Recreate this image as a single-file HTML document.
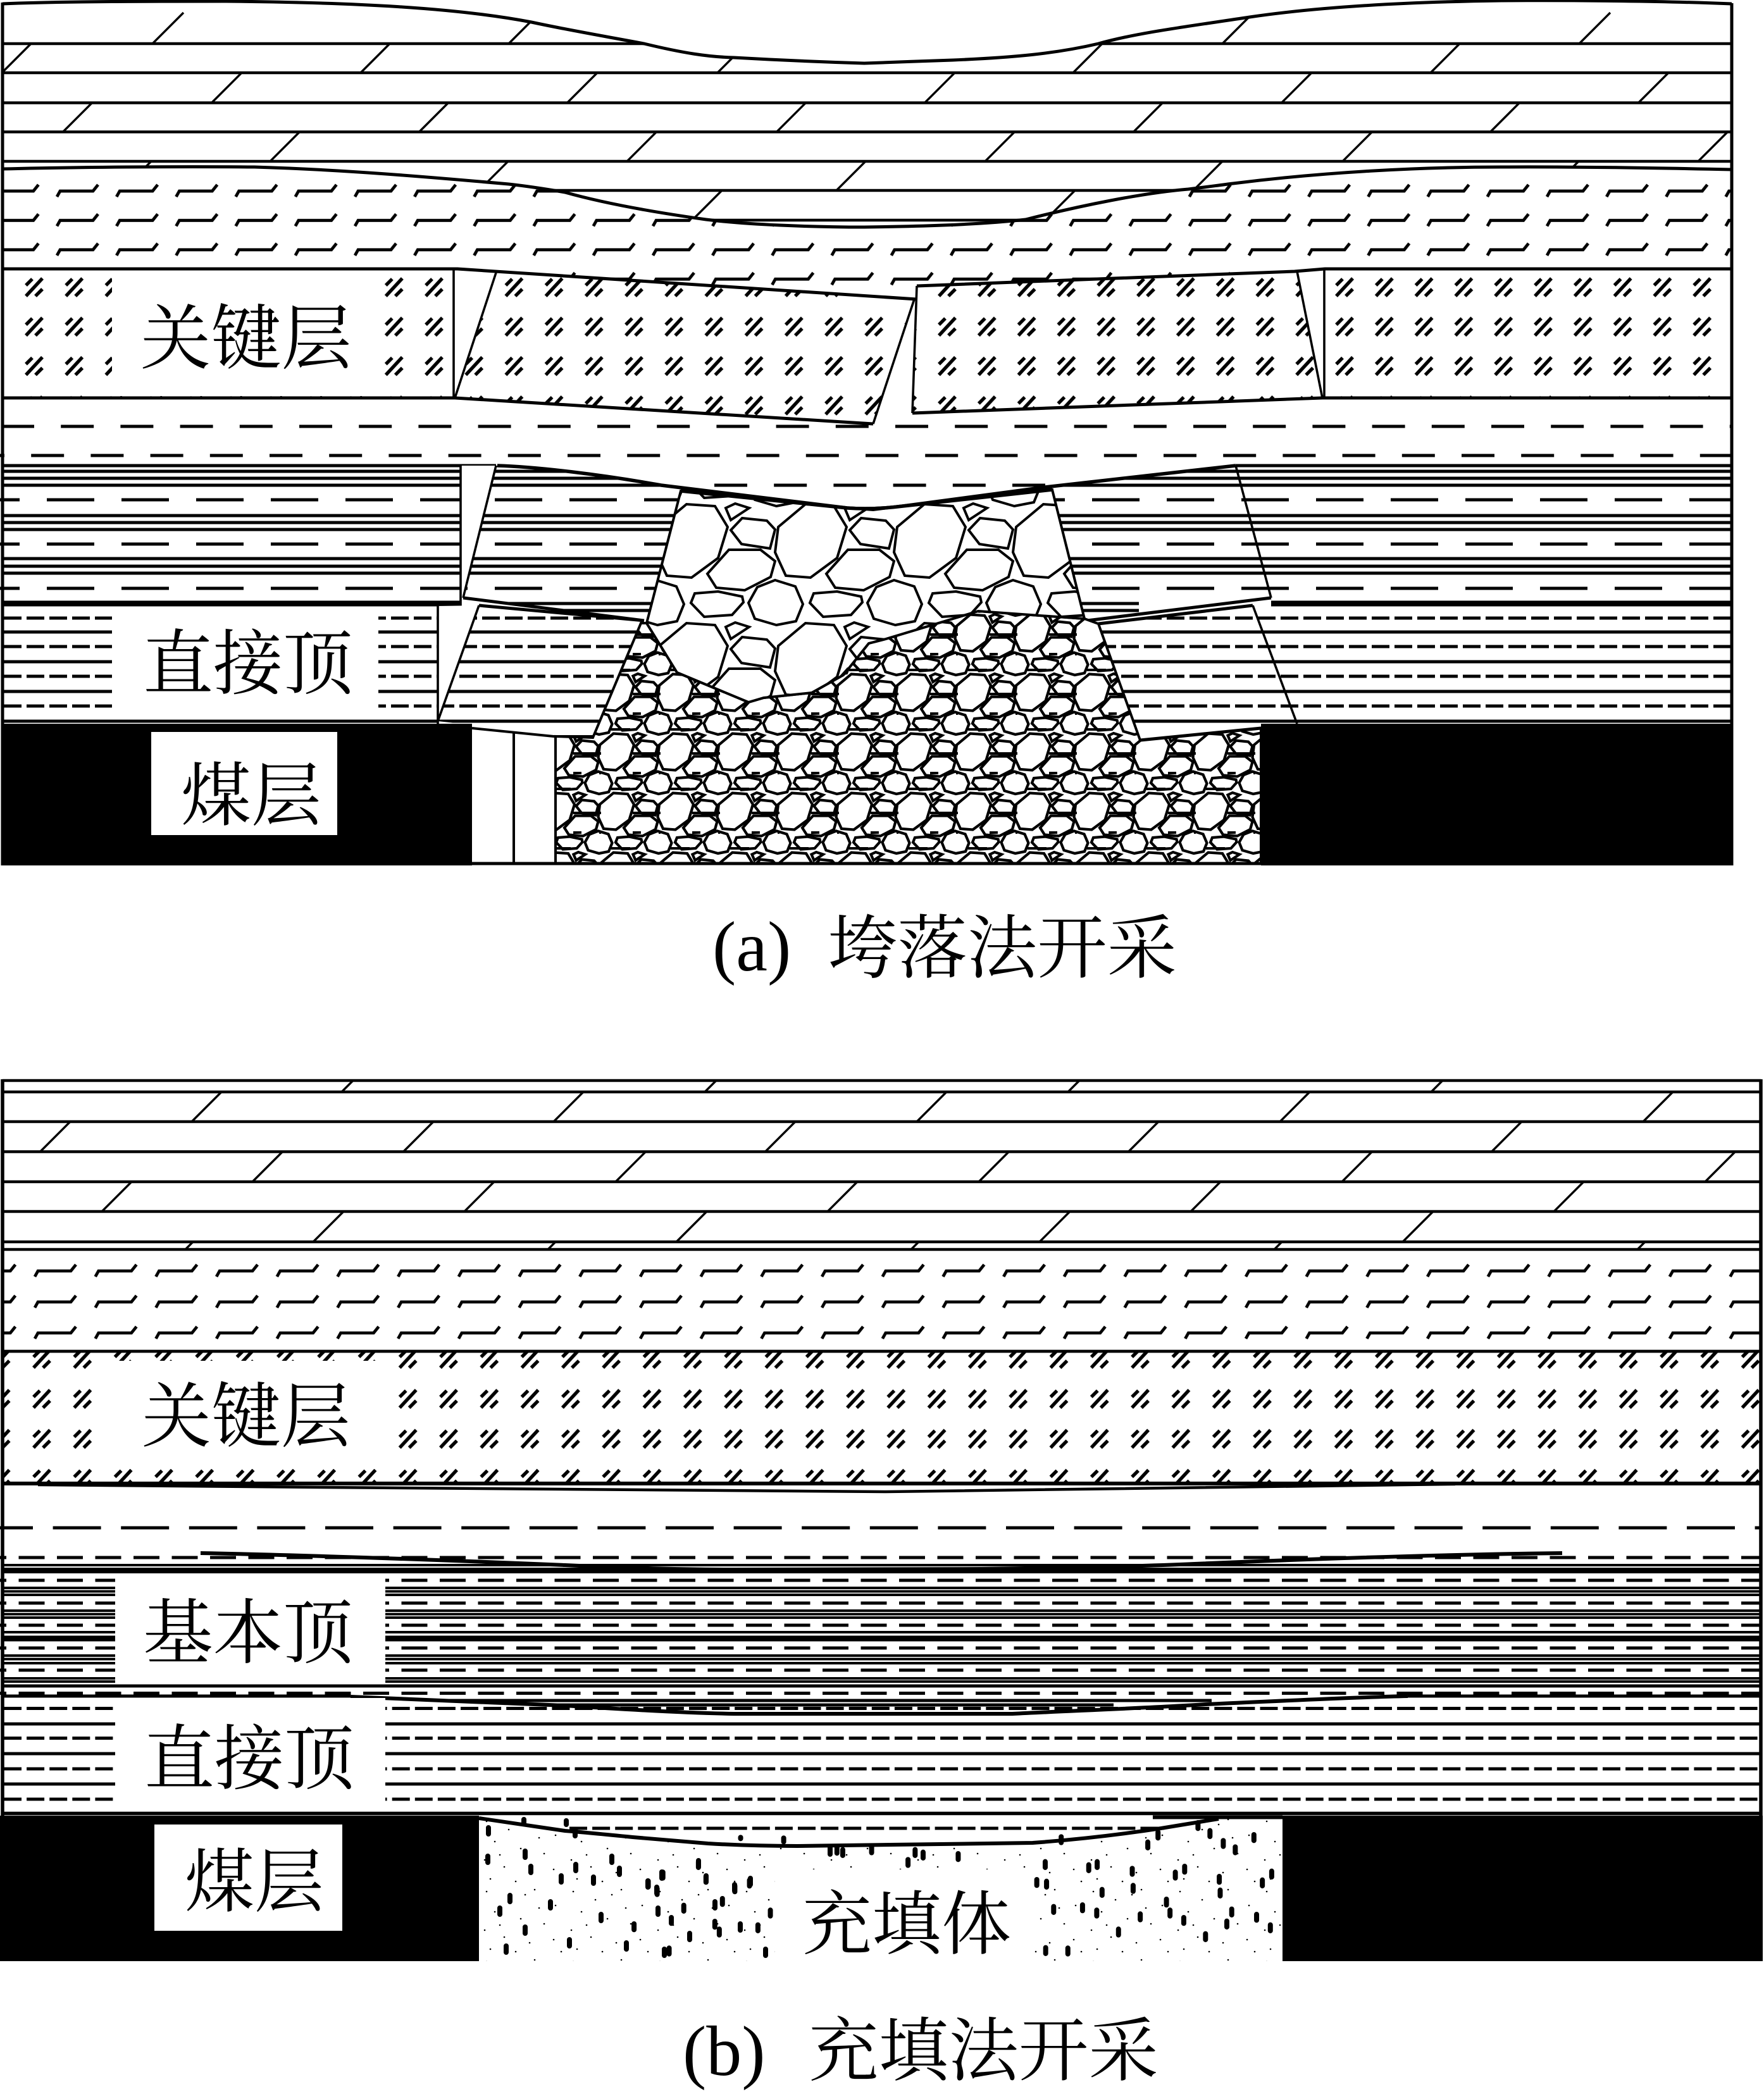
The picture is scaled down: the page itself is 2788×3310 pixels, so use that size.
<!DOCTYPE html>
<html><head><meta charset="utf-8"><style>
html,body{margin:0;padding:0;background:#fff}
svg{display:block}
text{font-family:"Liberation Serif","Noto Serif CJK SC",serif;fill:#000}
</style></head><body>
<svg xmlns="http://www.w3.org/2000/svg" width="2788" height="3310" viewBox="0 0 2788 3310">
<defs>
<g id="st" fill="none" stroke="#000" stroke-linejoin="miter">
<polygon points="2,63 45,27 90,30 110,63 95,112 53,143 14,140 -3,103"/>
<polygon points="115,68 133,49 172,53 185,67 177,97 132,90"/>
<polygon points="107,33 122,26 144,33 115,52"/>
<polygon points="78,137 112,99 162,99 185,117 178,142 137,163 92,159"/>
<polygon points="143,183 157,158 185,147 217,157 229,185 218,212 187,218 153,208"/>
<polygon points="52,183 58,168 95,165 133,173 135,182 117,202 73,205"/>
</g>
<g id="st6"><use href="#st"/><use href="#st" x="-188"/><use href="#st" x="188"/><use href="#st" y="-188"/><use href="#st" x="-188" y="-188"/><use href="#st" x="188" y="-188"/></g>
<pattern id="big" patternUnits="userSpaceOnUse" width="188" height="188" patternTransform="translate(1040 770)"><g stroke-width="4"><use href="#st6"/></g></pattern>
<pattern id="small" patternUnits="userSpaceOnUse" width="188" height="188" patternTransform="translate(1041 1146) scale(.5)"><g stroke-width="8.5"><use href="#st6"/></g><path d="M106 90H188M0 90H6M106 152H132M38 14H98M0 152H6" stroke="#000" stroke-width="8" fill="none"/></pattern>
<g id="pc" stroke="#000" stroke-width="5.4" fill="none"><path d="M5 33L31 5M5 16L15 6M20 33L31 22"/></g>
<pattern id="pct1" patternUnits="userSpaceOnUse" x="36" y="435" width="63.2" height="62.3"><use href="#pc"/></pattern>
<pattern id="pct2" patternUnits="userSpaceOnUse" x="1479" y="435" width="62.8" height="62.3"><use href="#pc"/></pattern>
<pattern id="pct3" patternUnits="userSpaceOnUse" x="48" y="2129" width="64.3" height="63.2"><use href="#pc"/></pattern>
<pattern id="sh1" patternUnits="userSpaceOnUse" x="85" y="278" width="94.2" height="46.4"><path d="M5 33L10 24H62L70 14" fill="none" stroke="#000" stroke-width="4.8"/></pattern>
<pattern id="sh2" patternUnits="userSpaceOnUse" x="50" y="1985" width="95.7" height="49"><path d="M5 33L10 24H62L70 14" fill="none" stroke="#000" stroke-width="4.8"/></pattern>
<pattern id="dots" patternUnits="userSpaceOnUse" x="757" y="2870" width="137" height="111"><path d="M12 9h.1M47 22h.1M88 6h.1M121 31h.1M25 41h.1M66 52h.1M103 60h.1M9 70h.1M40 81h.1M80 90h.1M118 85h.1M58 104h.1M130 104h.1M18 100h.1M95 35h.1M33 62h.1M73 14h.1" stroke="#000" stroke-width="2.5" stroke-linecap="round" fill="none"/></pattern>
<clipPath id="ca"><path d="M4 6C100 2 250 2 357 2C560 4 720 12 840 35C900 48 960 58 1018 69C1080 84 1120 90 1160 91C1230 95 1300 98 1366 100C1400 99 1470 96 1506 95C1600 91 1668 85 1736 69C1796 52 1876 42 1975 27C2090 10 2232 3 2373 1C2490 0 2640 2 2737 6L2737 420L4 420Z"/></clipPath>
<clipPath id="cl1"><polygon points="757,957 1018,982 937,1166 692,1140 692,1144 4,1144 4,958 692,958"/></clipPath>
<clipPath id="cr1"><polygon points="1736,986 1980,957 2737,957 2737,1144 1993,1144 1993,1151 1802,1170"/></clipPath>
</defs>
<rect width="2788" height="3310" fill="#fff"/>

<!-- PANEL A -->
<g clip-path="url(#ca)" stroke="#000" fill="none">
<path stroke-width="4.6" d="M4 69H2737M4 115H2737M4 162.5H2737M4 208.5H2737M4 255H2737M4 301H2737M4 348H2737"/>
<path stroke-width="3.4" d="M241 69l49-49M804 69l49-49M1932 69l49-49M2496 69l49-49M3 115l46-46M570 115l46-46M1134 115l46-46M1696 115l46-46M2261 115l46-46M335 162l46-46M897 162l46-46M1462 162l46-46M2026 162l46-46M2590 162l46-46M100 208l46-46M663 208l46-46M1228 208l46-46M1792 208l46-46M2356 208l46-46M427 255l46-46M991 255l46-46M1557 255l46-46M2122 255l46-46M2684 255l46-46M193 301l46-46M757 301l46-46M1322 301l46-46M1886 301l46-46M2449 301l46-46M527 348l46-46M1094 348l46-46M1652 348l46-46M2217 348l46-46"/>
</g>
<path fill="#fff" d="M4 267C120 264 280 263 402 264C540 268 680 280 804 291C840 295 870 300 893 304C950 320 1030 335 1116 347C1180 355 1280 359 1366 359C1440 358 1540 356 1621 347C1708 325 1806 305 1878 299C1896 297 1925 293 1949 290C2093 272 2242 264 2373 264C2490 263 2640 266 2737 268L2737 425L2094 425L2046 429L1449 452L1449 473L723 425L4 425Z"/>
<path fill="url(#sh1)" d="M4 267C120 264 280 263 402 264C540 268 680 280 804 291C840 295 870 300 893 304C950 320 1030 335 1116 347C1180 355 1280 359 1366 359C1440 358 1540 356 1621 347C1708 325 1806 305 1878 299C1896 297 1925 293 1949 290C2093 272 2242 264 2373 264C2490 263 2640 266 2737 268L2737 425L2094 425L2046 429L1449 452L1449 473L723 425L4 425Z"/>
<g fill="none" stroke="#000" stroke-width="5">
<path d="M4 6C100 2 250 2 357 2C560 4 720 12 840 35C900 48 960 58 1018 69C1080 84 1120 90 1160 91C1230 95 1300 98 1366 100C1400 99 1470 96 1506 95C1600 91 1668 85 1736 69C1796 52 1876 42 1975 27C2090 10 2232 3 2373 1C2490 0 2640 2 2737 6"/>
<path d="M4 267C120 264 280 263 402 264C540 268 680 280 804 291C840 295 870 300 893 304C950 320 1030 335 1116 347C1180 355 1280 359 1366 359C1440 358 1540 356 1621 347C1708 325 1806 305 1878 299C1896 297 1925 293 1949 290C2093 272 2242 264 2373 264C2490 263 2640 266 2737 268"/>
</g>

<!-- mudstone dashes -->
<path d="M2 674H2737" stroke="#000" stroke-width="5" stroke-dasharray="52 42.2" fill="none"/>
<path d="M-45 720H2737" stroke="#000" stroke-width="5" stroke-dasharray="52 42.2" fill="none"/>

<!-- key stratum -->
<rect x="4" y="425" width="713" height="204" fill="#fff"/>
<rect x="4" y="425" width="713" height="204" fill="url(#pct1)"/>
<rect x="2093" y="425" width="644" height="204" fill="#fff"/>
<rect x="2093" y="425" width="644" height="204" fill="url(#pct2)"/>
<polygon points="784,431 1445,473 1380,670 719,629" fill="#fff"/>
<polygon points="784,431 1445,473 1380,670 719,629" fill="url(#pct1)"/>
<polygon points="1449,452 2050,429 2090,629 1442,653" fill="#fff"/>
<polygon points="1449,452 2050,429 2090,629 1442,653" fill="url(#pct2)"/>
<rect x="177" y="428" width="423" height="198" fill="#fff"/>
<g fill="none" stroke="#000">
<path stroke-width="5" d="M4 425H723L1449 473M1449 452L2046 429L2094 425H2737M4 629H719L1380 670M1442 653L2090 629H2737"/>
<path stroke-width="3.6" d="M717 425V629M784 431L719 629M1445 473L1380 670M1449 452L1442 653M2050 429L2090 629M2093 425V629"/>
</g>

<!-- basic roof -->
<path fill="none" stroke="#000" stroke-width="5" d="M4 736H2737M4 745H2737M4 756H2737M4 767H2737M4 815H2737M4 826H2737M4 837H2737M4 883H2737M4 895H2737M4 906H2737M800 954H1800M800 965H1800"/>
<path fill="none" stroke="#000" stroke-width="5" stroke-dasharray="75 43" d="M-44 790H2737M-44 860H2737M-44 930H2737"/>
<polygon points="728,736 784,736 732,945 728,958" fill="#fff"/>
<path fill="#fff" d="M784 728L784 736C850 738 950 750 1045 767L1339 803Q1380 806 1427 800L1652 770L1953 736L1953 728Z"/>
<path fill="none" stroke="#000" stroke-width="5" stroke-dasharray="52 42.2" d="M1129 767H1690"/>
<polygon points="4,958 732,945 1018,981 1736,981 2009,945 2009,958 2737,958 2737,1144 4,1144" fill="#fff"/>
<g fill="none" stroke="#000">
<path stroke-width="9" d="M4 954H728M2009 954H2737"/>
<path stroke-width="3.6" d="M728 736V958M784 736L732 945M1953 736L2009 945"/>
<path stroke-width="5.5" d="M786 736C850 738 950 750 1045 767L1339 803Q1380 806 1427 800L1652 770L1953 736"/>
<path stroke-width="5" d="M732 945L1018 981M2009 945L1718 981M757 957L1018 981M1980 957L1736 986"/>
</g>

<!-- immediate roof -->
<g clip-path="url(#cl1)" fill="none" stroke="#000" stroke-width="5">
<path d="M4 999H1100M4 1046H1100M4 1093H1100M4 1140H1100"/>
<path stroke-dasharray="28 8" d="M6 977H1100M6 1022H1100M6 1069H1100M6 1116H1100"/>
</g>
<g clip-path="url(#cr1)" fill="none" stroke="#000" stroke-width="5">
<path d="M1700 999H2737M1700 1046H2737M1700 1093H2737M1700 1140H2737"/>
<path stroke-dasharray="28 8" d="M1700 977H2737M1700 1022H2737M1700 1069H2737M1700 1116H2737"/>
</g>
<rect x="177" y="960" width="421" height="182" fill="#fff"/>
<polygon points="692,958 757,957 692,1140" fill="#fff"/>
<path fill="none" stroke="#000" stroke-width="3.6" d="M692 958V1144M757 957L692 1140M1980 957L2050 1144"/>
<path fill="none" stroke="#000" stroke-width="5" d="M4 1140H692"/>

<!-- coal and goaf -->
<rect x="2" y="1144" width="744" height="224" fill="#000"/>
<rect x="1993" y="1144" width="746" height="224" fill="#000"/>
<rect x="239" y="1157" width="294" height="163" fill="#fff"/>
<rect x="746" y="1150" width="1247" height="215" fill="#fff"/>
<path fill="none" stroke="#000" stroke-width="4" d="M746 1151L875 1164H937M812 1158V1365M878 1165V1365"/>
<polygon points="1013,985 937,1166 878,1164 878,1365 1993,1365 1993,1151 1802,1170 1736,986 1714,978 1546,966 1400,1010 1373,1017 1333,1067 1283,1095 1207,1103 1183,1110 1070,1063 1022,985" fill="#fff"/>
<polygon points="1013,985 937,1166 878,1164 878,1365 1993,1365 1993,1151 1802,1170 1736,986 1714,978 1546,966 1400,1010 1373,1017 1333,1067 1283,1095 1207,1103 1183,1110 1070,1063 1022,985" fill="url(#small)" stroke="#000" stroke-width="4"/>
<polygon points="1076,776 1339,803 1380,806 1427,800 1663,774 1714,978 1546,966 1400,1010 1373,1017 1333,1067 1283,1095 1207,1103 1183,1110 1070,1063 1022,985" fill="#fff"/>
<polygon points="1076,776 1339,803 1380,806 1427,800 1663,774 1714,978 1546,966 1400,1010 1373,1017 1333,1067 1283,1095 1207,1103 1183,1110 1070,1063 1022,985" fill="url(#big)" stroke="#000" stroke-width="4"/>
<path fill="none" stroke="#000" stroke-width="5.5" d="M1076 776L1339 803Q1380 806 1427 800L1663 774"/>
<path fill="none" stroke="#000" stroke-width="5" d="M1802 1170L1993 1151M746 1365H1993"/>
<path fill="none" stroke="#000" stroke-width="5" d="M4 4V1368M2737 5V1368"/>
<rect x="2" y="1362" width="744" height="6" fill="#000"/><rect x="1993" y="1362" width="746" height="6" fill="#000"/>

<text x="222" y="574" font-size="112" textLength="334" lengthAdjust="spacingAndGlyphs">关键层</text>
<text x="226" y="1088" font-size="112" textLength="332" lengthAdjust="spacingAndGlyphs">直接顶</text>
<text x="286" y="1296" font-size="110" textLength="222" lengthAdjust="spacingAndGlyphs">煤层</text>
<text x="1126" y="1534" font-size="112">(a)</text>
<text x="1308" y="1537" font-size="110" textLength="552" lengthAdjust="spacingAndGlyphs">垮落法开采</text>

<!-- PANEL B -->
<g fill="none" stroke="#000">
<path stroke-width="4.6" d="M4 1708H2783M4 1726H2783M4 1773H2783M4 1820.5H2783M4 1868H2783M4 1915H2783M4 1963H2783M4 1975H2783M4 2136H2783M4 2345H2783"/>
<path stroke-width="3.4" d="M540 1726l18-18M1114 1726l18-18M1688 1726l18-18M2262 1726l18-18M303 1773l47-47M875 1773l47-47M1449 1773l47-47M2023 1773l47-47M2597 1773l47-47M64 1820l47-47M638 1820l47-47M1210 1820l47-47M1784 1820l47-47M2358 1820l47-47M399 1868l47-47M973 1868l47-47M1547 1868l47-47M2121 1868l47-47M2695 1868l47-47M161 1915l47-47M734 1915l47-47M1308 1915l47-47M1882 1915l47-47M2456 1915l47-47M495 1963l47-47M1069 1963l47-47M1643 1963l47-47M2217 1963l47-47M293 1975l12-12M866 1975l12-12M1440 1975l12-12M2014 1975l12-12M2588 1975l12-12"/>
</g>
<rect x="4" y="1978" width="2779" height="156" fill="url(#sh2)"/>
<rect x="4" y="2137" width="2779" height="207" fill="url(#pct3)"/>
<rect x="149" y="2151" width="476" height="171" fill="#fff"/>
<path fill="none" stroke="#000" stroke-width="4.6" d="M4 2136H2783"/>
<path fill="none" stroke="#000" stroke-width="6" d="M4 2345H2783"/>
<path fill="none" stroke="#000" stroke-width="4.5" d="M60 2347C500 2350 1100 2358 1400 2358C1700 2355 2000 2351 2300 2346"/>
<path fill="none" stroke="#000" stroke-width="5" stroke-dasharray="76 31.6" d="M-24 2415H2783"/>

<!-- basic roof b -->
<g fill="none" stroke="#000">
<path stroke-width="5" stroke-dasharray="41 19.5" d="M-31 2462H2783M-31 2498H2783M-31 2534H2783M-31 2569H2783M-31 2605H2783M-31 2640H2783M-31 2676.5H2783"/>
<path stroke-width="4" d="M4 2474H2783M4 2510H2783M4 2515.5H2783M4 2521H2783M4 2546H2783M4 2551.5H2783M4 2557H2783M4 2580H2783M4 2617H2783M4 2622.5H2783M4 2629H2783M4 2653H2783M4 2658H2783"/>
<path stroke-width="9" d="M4 2482.5H2783M4 2590H2783"/>
<path stroke-width="5" d="M4 2665H2783M4 2681H554M2225 2681H2783M700 2688H1915M860 2695H1760"/>
<path stroke-width="6" d="M317 2455C480 2458 700 2466 893 2474C1000 2479 1100 2481 1160 2481L1551 2480C1700 2478 1800 2476 1888 2472C2100 2463 2300 2457 2469 2455"/>
<path stroke-width="6" d="M554 2682C650 2685 780 2692 893 2696C1000 2703 1100 2708 1160 2709L1600 2709C1700 2704 1810 2700 1906 2694C2020 2689 2130 2683 2225 2681"/>
</g>
<!-- immediate roof b -->
<g fill="none" stroke="#000" stroke-width="5">
<path stroke-dasharray="28 8.1" d="M6 2700.5H2783M6 2747.5H2783M6 2796H2783M6 2844H2783"/>
<path d="M4 2725H2783M4 2772H2783M4 2820H2783"/>
<path d="M4 2866.5H2783" stroke-width="5.5"/>
</g>
<rect x="182" y="2489" width="427" height="173" fill="#fff"/>
<rect x="182" y="2684" width="427" height="178" fill="#fff"/>

<!-- coal, fill -->
<rect x="0" y="2870" width="757" height="230" fill="#000"/>
<rect x="2027" y="2870" width="759" height="230" fill="#000"/>
<rect x="244" y="2884" width="297" height="168" fill="#fff"/>
<rect x="757" y="2872" width="1270" height="228" fill="#fff"/>
<rect x="757" y="2872" width="1270" height="228" fill="url(#dots)"/>
<path fill="#fff" d="M757 2872L757 2874L893 2894L1000 2904L1119 2914L1260 2918L1632 2913L1835 2890L1926 2875L2027 2875L2027 2872Z"/>
<path fill="none" stroke="#000" stroke-width="5" stroke-dasharray="28 8.1" d="M900 2890H1840"/>
<g transform="translate(1000 2750) scale(.7018 .3333)" fill="none" stroke="#000" stroke-width="8" stroke-linecap="round">
<path vector-effect="non-scaling-stroke" d="M148 578v28M68 628v28M165 648v28M35 670v28M55 706v28M263 666v28M230 693v28M202 753v28M115 785v28M310 808v28M87 843v28M185 861v28M195 898v28M282 878v28M82 988v28M3 873v28M243 463v6M340 466v18M460 510v28M473 521v28M538 508v28M636 521v28M654 533v28M620 568v28M733 540v28M965 460v28M929 578v28M1027 593v28M1046 578v28M1125 610v28M1222 628v28M1243 600v28M1183 438v28M1160 485v28M1273 393v28M1300 431v28M1399 450v28M1330 478v28M1357 508v28M1321 648v28M1418 665v28M1439 623v28M910 663v28M932 671v28M1057 710v28M1127 691v28M1202 756v28M1323 713v28M948 791v28M1013 783v28M1045 808v28M1143 826v28M1210 808v28M1241 843v28M1349 803v28M1338 860v28M1405 828v28M1436 878v28M1094 898v28M1290 920v28M930 986v28M980 988v28"/>
</g>
<path fill="none" stroke="#000" stroke-width="8" stroke-linecap="round" d="M772 2889v10M828 2876v5M895 2878v6M909 2892v10M771 2934v10M830 2926v10M839 2950v10M910 2947v10M967 2934v10M979 2953v10M1046 2959v10M1104 2941v10M1116 2965v10M887 2965v10M938 2967v10M1024 2973v10M1038 2983v10M1161 2979v10M1186 2969v10M806 2996v10M1312 2921v10M790 3016v10M830 3046v10M870 3006v10M900 3066v10M950 3026v10M990 3071v10M1040 3016v10M1090 3056v10M1130 3006v10M1170 3041v10M1210 3081v10M800 3076v10M1050 3081v10"/>
<rect x="1225" y="2955" width="407" height="145" fill="#fff"/>
<path fill="none" stroke="#000" stroke-width="6" d="M757 2874L893 2894C930 2897 970 2901 1000 2904L1119 2914C1170 2917 1220 2918 1260 2918L1632 2913C1700 2908 1770 2900 1835 2890L1926 2875M1822 2872.5H2027"/>
<path fill="none" stroke="#000" stroke-width="5.5" d="M4 1706V2870M2783 1706V2870"/>

<text x="224" y="2278" font-size="112" textLength="330" lengthAdjust="spacingAndGlyphs">关键层</text>
<text x="226" y="2620" font-size="112" textLength="332" lengthAdjust="spacingAndGlyphs">基本顶</text>
<text x="228" y="2819" font-size="112" textLength="332" lengthAdjust="spacingAndGlyphs">直接顶</text>
<text x="292" y="3013" font-size="110" textLength="220" lengthAdjust="spacingAndGlyphs">煤层</text>
<text x="1268" y="3080" font-size="110" textLength="330" lengthAdjust="spacingAndGlyphs">充填体</text>
<text x="1079" y="3280" font-size="112">(b)</text>
<text x="1278" y="3280" font-size="110" textLength="553" lengthAdjust="spacingAndGlyphs">充填法开采</text>
</svg>
</body></html>
